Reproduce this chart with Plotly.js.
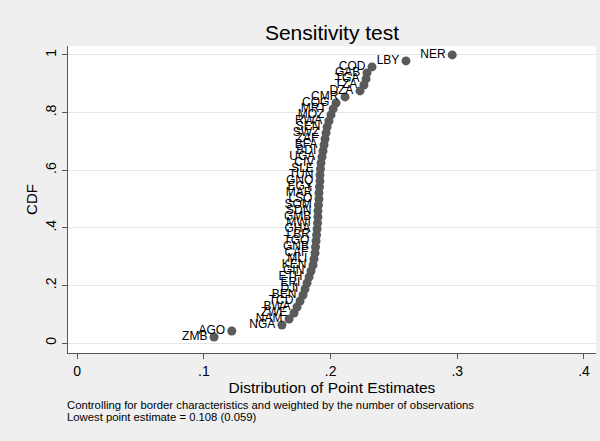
<!DOCTYPE html>
<html>
<head>
<meta charset="utf-8">
<script src="https://cdn.plot.ly/plotly-3.0.1.min.js"></script>
<style>html,body{margin:0;padding:0;background:#efefef;}#chart{width:600px;height:441px;}</style>
</head>
<body>
<div id="chart"></div>
<script>
// Countries, ordered from lowest to highest point estimate
const countries = ["ZMB","AGO","NGA","NAM","ZWE","BWA","TCD","BEN","DJI","ERI","ETH","GIN","KEN","MLI","CAF","GNB","TGO","LBR","GHA","MWI","GMB","SDN","SOM","LSO","MAR","EGY","GNQ","TUN","SLE","CIV","UGA","BDI","BFA","ZAF","SWZ","SEN","RWA","MOZ","MRT","COG","CMR","DZA","TZA","TGA","GAB","COD","LBY","NER"];
// Point estimates (x)
const estimates = [0.108,0.122,0.1616,0.1672,0.1711,0.1735,0.1759,0.1782,0.1798,0.1814,0.183,0.1845,0.1861,0.1869,0.1877,0.1881,0.1885,0.1889,0.1893,0.1897,0.19,0.19,0.1904,0.1908,0.1908,0.1912,0.1916,0.1916,0.192,0.1924,0.1932,0.194,0.1948,0.1956,0.1964,0.1972,0.1987,0.2003,0.202,0.2043,0.2114,0.2232,0.2263,0.228,0.2287,0.2327,0.2595,0.296];
// Empirical CDF (y)
const cdf = [0.0208,0.0417,0.0625,0.0833,0.1042,0.125,0.1458,0.1667,0.1875,0.2083,0.2292,0.25,0.2708,0.2917,0.3125,0.3333,0.3542,0.375,0.3958,0.4167,0.4375,0.4583,0.4792,0.5,0.5208,0.5417,0.5625,0.5833,0.6042,0.625,0.6458,0.6667,0.6875,0.7083,0.7292,0.75,0.7708,0.7917,0.8125,0.8333,0.8542,0.875,0.8958,0.9167,0.9375,0.9583,0.9792,1.0];
const xTicks = [0,0.1,0.2,0.3,0.4];
const xTickText = ["0",".1",".2",".3",".4"];
const yTicks = [0,0.2,0.4,0.6,0.8,1];
const yTickText = ["0",".2",".4",".6",".8","1"];
const noteLines = ["Controlling for border characteristics and weighted by the number of observations",
                   "Lowest point estimate = 0.108 (0.059)"];

const trace = {
  x: estimates, y: cdf, text: countries,
  type: "scatter", mode: "markers+text",
  textposition: "middle left",
  textfont: {family: "Arial, Liberation Sans, sans-serif", size: 12, color: "#000"},
  marker: {color: "#5a5a5a", size: 9},
  hoverinfo: "x+y+text", cliponaxis: false
};

const layout = {
  width: 600, height: 441,
  paper_bgcolor: "#efefef", plot_bgcolor: "#ffffff",
  margin: {l: 68, r: 4, t: 46, b: 88},
  showlegend: false,
  font: {family: "Arial, Liberation Sans, sans-serif", color: "#000"},
  title: {text: "Sensitivity test", font: {size: 21, color: "#000"}, x: 0.5, xref: "paper", y: 1 - 33/441, yref: "container", yanchor: "middle"},
  xaxis: {
    range: [-0.0073, 0.4095], tickvals: xTicks, ticktext: xTickText,
    showgrid: false, zeroline: false, showline: true, linecolor: "#555", linewidth: 1,
    ticks: "outside", ticklen: 5, tickcolor: "#555", tickfont: {size: 14},
    title: {text: "Distribution of Point Estimates", font: {size: 15.5}, standoff: 0}
  },
  yaxis: {
    range: [-0.0347, 1.031], tickvals: yTicks, ticktext: yTickText, tickangle: -90,
    showgrid: true, gridcolor: "#e6e6e6", zeroline: false, showline: true, linecolor: "#555", linewidth: 1,
    ticks: "outside", ticklen: 5, tickcolor: "#555", tickfont: {size: 14},
    title: {text: "CDF", font: {size: 15}, standoff: 2}
  },
  annotations: noteLines.map((t, i) => ({
    text: t, xref: "paper", yref: "paper", x: 0, xshift: -3,
    y: (441 - 88 - (405 + 12 * i)) / (441 - 46 - 88), yanchor: "middle", xanchor: "left",
    align: "left", showarrow: false, font: {size: 11.3, color: "#000"}
  }))
};

Plotly.newPlot("chart", [trace], layout, {displayModeBar: false, staticPlot: true});
</script>
</body>
</html>
